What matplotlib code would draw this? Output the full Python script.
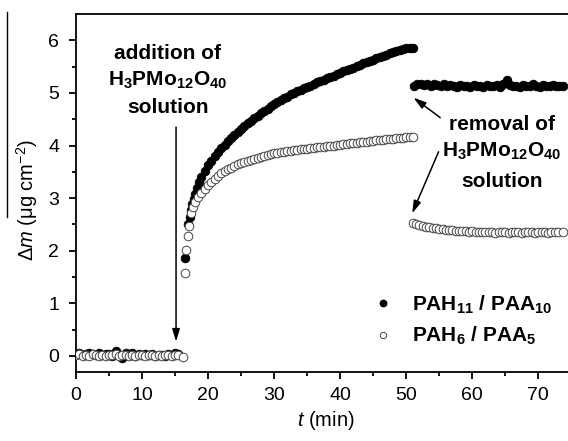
import matplotlib
matplotlib.use('Agg')
import matplotlib.pyplot as plt
from matplotlib.lines import Line2D

plt.rcParams['font.family'] = ['Liberation Sans', 'DejaVu Sans']
plt.rcParams['mathtext.fontset'] = 'custom'
plt.rcParams['mathtext.rm'] = 'Liberation Sans'
plt.rcParams['mathtext.it'] = 'Liberation Sans:italic'
plt.rcParams['mathtext.bf'] = 'Liberation Sans:bold'

# PAH11 / PAA10 (filled) - baseline, growth after addition, plateau after removal
t_fill_base = [0.0, 0.5, 1.0, 1.5, 2.0, 2.5, 3.0, 3.5, 4.0, 4.5, 5.0, 5.5, 6.0, 6.5, 7.0,
               7.5, 8.0, 8.5, 9.0, 9.5, 10.0, 10.5, 11.0, 11.5, 12.0, 12.5, 13.0, 13.5,
               14.0, 14.5, 15.0, 15.5]
y_fill_base = [0.03, 0.05, 0.02, 0.04, 0.06, 0.03, 0.01, 0.05, 0.02, 0.03, 0.04, 0.00,
               0.10, 0.02, -0.04, 0.05, 0.01, 0.06, 0.00, 0.03, 0.02, 0.04, 0.01, 0.03,
               0.00, 0.02, 0.01, 0.00, 0.03, 0.02, 0.05, 0.04]

t_fill_rise = [16.5, 17.0, 17.2, 17.4, 17.6, 17.8, 18.0, 18.3, 18.6, 19.0, 19.5,
               20.0, 20.5, 21.0, 21.5, 22.0, 22.5, 23.0, 23.5, 24.0, 24.5, 25.0, 25.5,
               26.0, 26.5, 27.0, 27.5, 28.0, 28.5, 29.0, 29.5, 30.0, 30.5, 31.0, 31.5,
               32.0, 32.5, 33.0, 33.5, 34.0, 34.5, 35.0, 35.5, 36.0, 36.5, 37.0, 37.5,
               38.0, 38.5, 39.0, 39.5, 40.0, 40.5, 41.0, 41.5, 42.0, 42.5, 43.0, 43.5,
               44.0, 44.5, 45.0, 45.5, 46.0, 46.5, 47.0, 47.5, 48.0, 48.5, 49.0, 49.5,
               50.0, 50.5, 51.0]
y_fill_rise = [1.86, 2.50, 2.65, 2.78, 2.88, 2.98, 3.08, 3.20, 3.30, 3.40, 3.52,
               3.62, 3.71, 3.80, 3.87, 3.95, 4.01, 4.08, 4.14, 4.20, 4.26, 4.32, 4.37,
               4.42, 4.47, 4.52, 4.57, 4.62, 4.66, 4.70, 4.75, 4.78, 4.83, 4.86, 4.90,
               4.93, 4.97, 5.00, 5.03, 5.06, 5.09, 5.12, 5.14, 5.17, 5.20, 5.22, 5.25,
               5.28, 5.30, 5.33, 5.36, 5.38, 5.41, 5.43, 5.46, 5.48, 5.51, 5.53, 5.56,
               5.58, 5.61, 5.63, 5.66, 5.68, 5.71, 5.73, 5.75, 5.77, 5.80, 5.82, 5.84,
               5.85, 5.86, 5.85]

t_fill_after = [51.2, 51.7, 52.2, 52.7, 53.2, 53.7, 54.2, 54.7, 55.2, 55.7, 56.2, 56.7,
                57.2, 57.7, 58.2, 58.7, 59.2, 59.7, 60.2, 60.7, 61.2, 61.7, 62.2, 62.7,
                63.2, 63.7, 64.2, 64.7, 65.2, 65.7, 66.2, 66.7, 67.2, 67.7, 68.2, 68.7,
                69.2, 69.7, 70.2, 70.7, 71.2, 71.7, 72.2, 72.7, 73.2, 73.8]
y_fill_after = [5.14, 5.17, 5.16, 5.15, 5.17, 5.14, 5.16, 5.15, 5.14, 5.16, 5.13, 5.15,
                5.14, 5.12, 5.15, 5.13, 5.14, 5.12, 5.15, 5.13, 5.14, 5.12, 5.15, 5.14,
                5.13, 5.15, 5.12, 5.16, 5.24, 5.15, 5.13, 5.14, 5.12, 5.15, 5.13, 5.14,
                5.16, 5.13, 5.12, 5.15, 5.14, 5.13, 5.15, 5.14, 5.13, 5.14]

# PAH6 / PAA5 (open)
t_open_base = [0.0, 0.5, 1.0, 1.5, 2.0, 2.5, 3.0, 3.5, 4.0, 4.5, 5.0, 5.5, 6.0, 6.5, 7.0,
               7.5, 8.0, 8.5, 9.0, 9.5, 10.0, 10.5, 11.0, 11.5, 12.0, 12.5, 13.0, 13.5,
               14.0, 14.5, 15.0, 15.5, 16.2]
y_open_base = [0.01, 0.03, -0.01, 0.02, 0.00, 0.03, 0.01, -0.01, 0.02, 0.00, 0.02, 0.01,
               0.03, 0.00, 0.02, 0.01, -0.01, 0.02, 0.00, 0.01, 0.02, 0.00, 0.01, 0.02,
               -0.01, 0.01, 0.00, 0.02, 0.01, 0.00, 0.02, 0.01, -0.02]

t_open_rise = [16.5, 16.7, 16.9, 17.1, 17.4, 17.7, 18.0, 18.5, 19.0, 19.5, 20.0, 20.5,
               21.0, 21.5, 22.0, 22.5, 23.0, 23.5, 24.0, 24.5, 25.0, 25.5, 26.0, 26.5,
               27.0, 27.5, 28.0, 28.5, 29.0, 29.5, 30.0, 30.5, 31.0, 31.5, 32.0, 32.5,
               33.0, 33.5, 34.0, 34.5, 35.0, 35.5, 36.0, 36.5, 37.0, 37.5, 38.0, 38.5,
               39.0, 39.5, 40.0, 40.5, 41.0, 41.5, 42.0, 42.5, 43.0, 43.5, 44.0, 44.5,
               45.0, 45.5, 46.0, 46.5, 47.0, 47.5, 48.0, 48.5, 49.0, 49.5, 50.0, 50.5,
               51.0]
y_open_rise = [1.58, 2.02, 2.28, 2.47, 2.71, 2.83, 2.92, 3.02, 3.10, 3.18, 3.25, 3.31,
               3.37, 3.42, 3.47, 3.51, 3.55, 3.58, 3.61, 3.64, 3.66, 3.69, 3.71, 3.73,
               3.75, 3.77, 3.79, 3.80, 3.82, 3.83, 3.85, 3.86, 3.87, 3.88, 3.89, 3.90,
               3.91, 3.92, 3.93, 3.94, 3.94, 3.95, 3.96, 3.97, 3.97, 3.98, 3.99, 3.99,
               4.00, 4.01, 4.01, 4.02, 4.03, 4.04, 4.04, 4.05, 4.06, 4.06, 4.07, 4.08,
               4.09, 4.10, 4.10, 4.11, 4.12, 4.13, 4.13, 4.14, 4.15, 4.15, 4.16, 4.16,
               4.16]

t_open_after = [51.0, 51.5, 52.0, 52.5, 53.0, 53.5, 54.0, 54.5, 55.0, 55.5, 56.0, 56.5,
                57.0, 57.5, 58.0, 58.5, 59.0, 59.5, 60.0, 60.5, 61.0, 61.5, 62.0, 62.5,
                63.0, 63.5, 64.0, 64.5, 65.0, 65.5, 66.0, 66.5, 67.0, 67.5, 68.0, 68.5,
                69.0, 69.5, 70.0, 70.5, 71.0, 71.5, 72.0, 72.5, 73.0, 73.8]
y_open_after = [2.52, 2.50, 2.49, 2.47, 2.46, 2.45, 2.44, 2.43, 2.42, 2.41, 2.40, 2.40,
                2.39, 2.38, 2.38, 2.37, 2.37, 2.36, 2.37, 2.36, 2.35, 2.36, 2.35, 2.36,
                2.35, 2.34, 2.35, 2.36, 2.35, 2.34, 2.35, 2.36, 2.35, 2.34, 2.35, 2.36,
                2.35, 2.34, 2.35, 2.36, 2.35, 2.34, 2.35, 2.35, 2.36, 2.36]

fig = plt.figure(figsize=(5.68, 4.41), dpi=100)
ax = fig.add_axes([76/568, 1-371.7/441, 1-76/568, (371.7-14)/441])

ms = 6.2
for tt, yy in [(t_fill_base, y_fill_base), (t_fill_rise, y_fill_rise), (t_fill_after, y_fill_after)]:
    ax.plot(tt, yy, 'o', ms=ms, mfc='black', mec='black', mew=0.6, ls='none', zorder=3)
for tt, yy in [(t_open_base, y_open_base), (t_open_rise, y_open_rise), (t_open_after, y_open_after)]:
    ax.plot(tt, yy, 'o', ms=ms, mfc='white', mec='#444444', mew=0.7, ls='none', zorder=4)

ax.set_xlim(0, 74.5)
ax.set_ylim(-0.3, 6.5)
ax.set_xticks([0, 10, 20, 30, 40, 50, 60, 70])
ax.set_xticks([5, 15, 25, 35, 45, 55, 65], minor=True)
ax.set_yticks([0, 1, 2, 3, 4, 5, 6])
ax.set_yticks([0.5, 1.5, 2.5, 3.5, 4.5, 5.5], minor=True)
ax.spines['right'].set_visible(False)
for s in ['left', 'bottom', 'top']:
    ax.spines[s].set_linewidth(1.3)
ax.tick_params(which='major', direction='out', length=5, width=1.3, labelsize=14)
ax.tick_params(which='minor', direction='out', length=3, width=1.3)
ax.tick_params(axis='x', pad=6)
ax.tick_params(axis='y', pad=7)

# annotations
bold = dict(fontsize=15, fontweight='bold', ha='center', va='baseline')
ax.text(13.9, 5.65, 'addition of', **bold)
ax.text(13.9, 5.14, r'$\mathbf{H_3PMo_{12}O_{40}}$', **bold)
ax.text(13.9, 4.61, 'solution', **bold)
ax.text(64.5, 4.30, 'removal of', **bold)
ax.text(64.5, 3.78, r'$\mathbf{H_3PMo_{12}O_{40}}$', **bold)
ax.text(64.5, 3.21, 'solution', **bold)

arrow = dict(arrowstyle='-|>,head_length=0.5,head_width=0.15', mutation_scale=15,
             color='black', lw=1.1, shrinkA=0, shrinkB=0)
ax.annotate('', xy=(15.15, 0.27), xytext=(15.15, 4.35), arrowprops=arrow)
ax.annotate('', xy=(51.1, 4.91), xytext=(55.15, 4.53), arrowprops=arrow)
ax.annotate('', xy=(50.9, 2.71), xytext=(54.9, 3.88), arrowprops=arrow)

handles = [Line2D([], [], marker='o', ls='none', ms=4.6, mfc='black', mec='black'),
           Line2D([], [], marker='o', ls='none', ms=4.6, mfc='white', mec='#444444', mew=0.7)]
labels = [r'$\mathbf{PAH_{11}\ /\ PAA_{10}}$', r'$\mathbf{PAH_{6}\ /\ PAA_{5}}$']
ax.legend(handles, labels, loc='lower right', bbox_to_anchor=(0.985, 0.045), frameon=False,
          fontsize=15, handletextpad=0.9, handlelength=1.0, labelspacing=0.45, borderaxespad=0)

fig.text(27/568, 1-200/441, r'$\mathit{\Delta m}$ (μg cm$^{-2}$)', rotation=90,
         ha='center', va='center', fontsize=14.5)
fig.text(326/568, 1-420/441, r'$\mathit{t}$ (min)', ha='center', va='center', fontsize=14.5)
fig.add_artist(Line2D([7/568, 7/568], [1-12/441, 1-217/441], color='black', lw=1.0))

fig.savefig('out.png', dpi=100)
